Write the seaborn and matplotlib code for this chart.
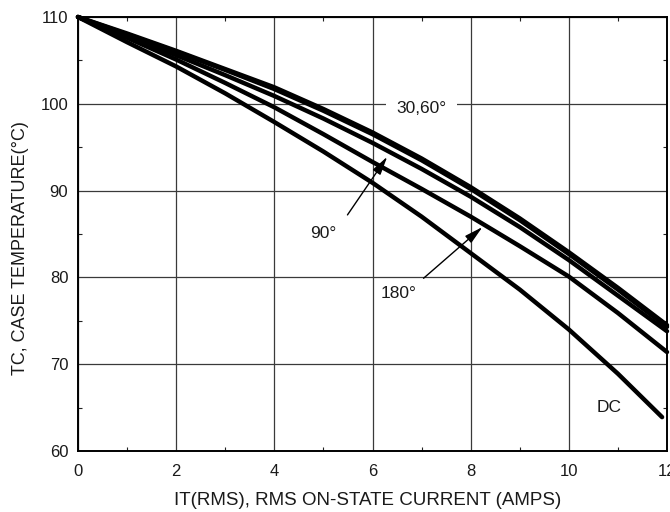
import matplotlib
matplotlib.use("Agg")
import matplotlib.pyplot as plt
import numpy as np
import pandas as pd
import seaborn as sns
from matplotlib.ticker import MultipleLocator

# ---- data ----
current = [0, 1, 2, 3, 4, 5, 6, 7, 8, 9, 10, 11, 12]
temp_30 = [110.0, 108.1, 106.1, 104.0, 101.9, 99.4, 96.7, 93.7, 90.4, 86.8, 82.9, 78.8, 74.5]
temp_60 = [110.0, 108.0, 106.0, 103.9, 101.7, 99.2, 96.5, 93.5, 90.2, 86.6, 82.7, 78.6, 74.3]
temp_90 = [110.0, 107.8, 105.6, 103.3, 100.9, 98.3, 95.5, 92.5, 89.3, 85.8, 82.0, 77.9, 73.8]
temp_180 = [110.0, 107.6, 105.1, 102.4, 99.6, 96.5, 93.3, 90.2, 87.0, 83.6, 80.1, 75.9, 71.4]
current_dc = [0, 1, 2, 3, 4, 5, 6, 7, 8, 9, 10, 11, 11.9]
temp_dc = [110.0, 107.1, 104.3, 101.2, 97.9, 94.5, 90.9, 87.0, 82.8, 78.6, 74.0, 68.9, 63.9]

x_ticks = [0, 2, 4, 6, 8, 10, 12]
y_ticks = [60, 70, 80, 90, 100, 110]

x_label = "IT(RMS), RMS ON-STATE CURRENT (AMPS)"
y_label = "TC, CASE TEMPERATURE(°C)"

frames = []
for name, xs, ys in [("30°", current, temp_30), ("60°", current, temp_60),
                     ("90°", current, temp_90), ("180°", current, temp_180),
                     ("DC", current_dc, temp_dc)]:
    frames.append(pd.DataFrame({"current": xs, "temp": ys, "series": name}))
df = pd.concat(frames, ignore_index=True)

sns.set_theme(style="white")
plt.rcParams["font.family"] = ["Liberation Sans", "DejaVu Sans"]

fig = plt.figure(figsize=(6.7, 5.12), dpi=100)
ax = fig.add_axes([78 / 670, 1 - 451 / 512, 589 / 670, 434 / 512])

sns.lineplot(data=df, x="current", y="temp", hue="series",
             palette=["black"] * 5, linewidth=3.2, sort=False,
             legend=False, ax=ax)
for ln in ax.lines:
    ln.set_clip_on(False)
    ln.set_solid_capstyle("round")
    ln.set_zorder(3)

ax.set_xlim(0, 12)
ax.set_ylim(60, 110)
ax.set_xticks(x_ticks)
ax.set_yticks(y_ticks)
ax.xaxis.set_minor_locator(MultipleLocator(1))
ax.yaxis.set_minor_locator(MultipleLocator(5))

ax.grid(True, which="major", color="#3a3a3a", linewidth=0.9)
ax.set_axisbelow(True)

ax.tick_params(which="major", length=0, labelsize=12, colors="#1a1a1a",
               top=True, right=True, labeltop=False, labelright=False)
ax.tick_params(axis="x", which="major", pad=9)
ax.tick_params(axis="y", which="major", pad=7)
ax.tick_params(which="minor", direction="in", length=3, width=0.8,
               color="#222222", top=True, right=True, bottom=True, left=True)

for sp in ax.spines.values():
    sp.set_color("black")
    sp.set_linewidth(1.4)
    sp.set_visible(True)

ax.set_xlabel(x_label, fontsize=13.5, color="#1a1a1a")
ax.set_ylabel(y_label, fontsize=13, color="#1a1a1a")
ax.xaxis.set_label_coords(0.4915, -0.094)
ax.yaxis.set_label_coords(-0.083, 0.467)

# annotations
ax.text(7.0, 99.5, "30,60°", fontsize=12.5, ha="center", va="center",
        color="#1a1a1a", zorder=4,
        bbox=dict(boxstyle="square,pad=0.6", fc="white", ec="none"))
ax.text(5.0, 85.0, "90°", fontsize=12.5, ha="center", va="center",
        color="#1a1a1a", zorder=4)
ax.text(6.53, 78.2, "180°", fontsize=12.5, ha="center", va="center",
        color="#1a1a1a", zorder=4,
        bbox=dict(boxstyle="square,pad=0.35", fc="white", ec="none"))
ax.text(10.82, 65.0, "DC", fontsize=12.5, ha="center", va="center",
        color="#1a1a1a", zorder=4)

arrow_kw = dict(arrowstyle="-|>,head_length=0.8,head_width=0.2",
                color="black", lw=1.0, shrinkA=0, shrinkB=0, mutation_scale=14)
ax.annotate("", xy=(6.3, 93.9), xytext=(5.49, 87.2), arrowprops=arrow_kw, zorder=5)
ax.annotate("", xy=(8.24, 85.8), xytext=(7.04, 79.9), arrowprops=arrow_kw, zorder=5)

fig.savefig("out.png", dpi=100)
